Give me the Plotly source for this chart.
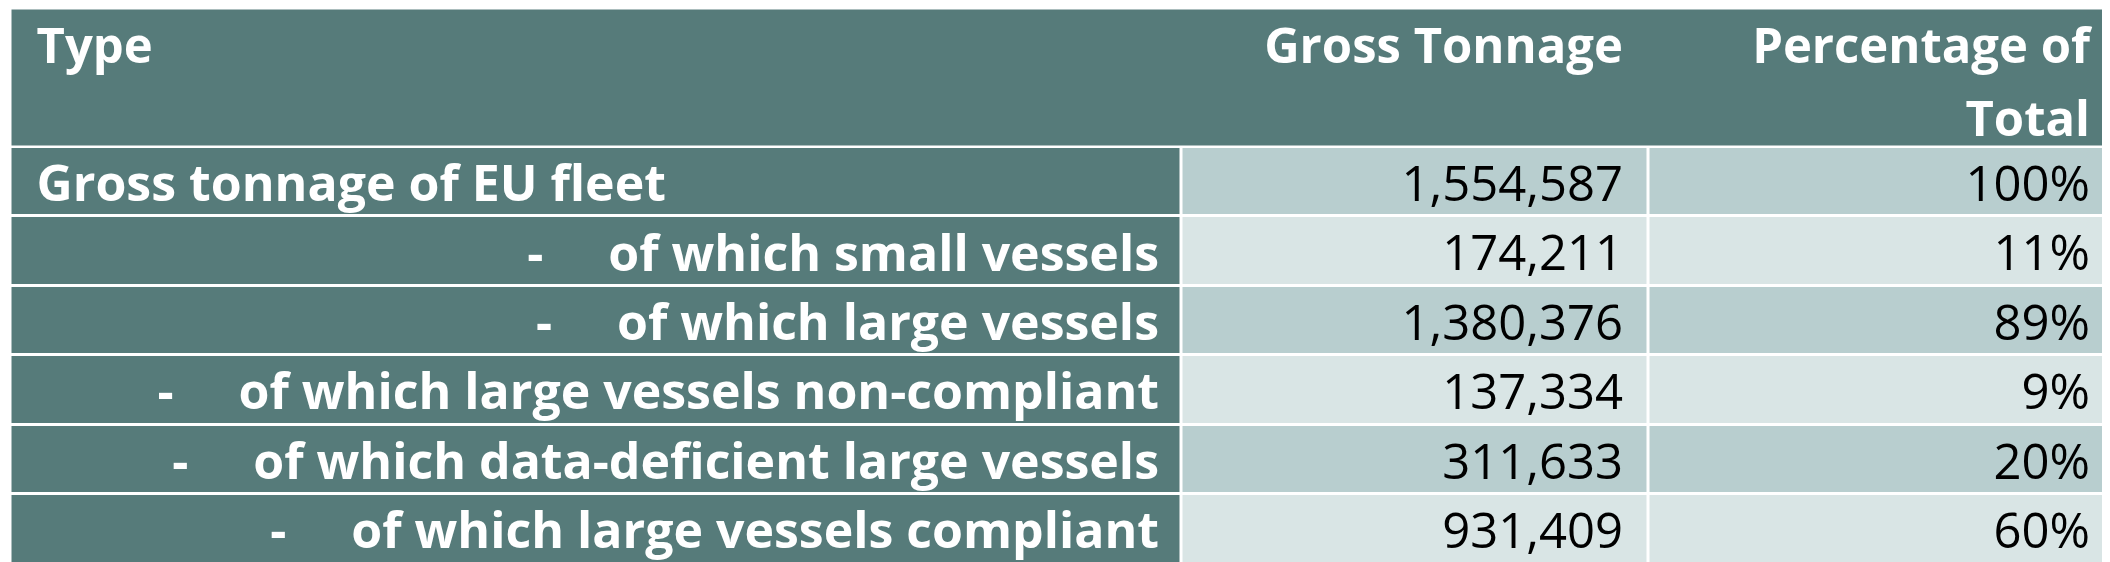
import plotly.graph_objects as go

# ---- data ----
header_line1 = ["Type", "Gross Tonnage", "Percentage of"]
header_line2 = ["", "", "Total"]
types = [
    "Gross tonnage of EU fleet",
    "of which small vessels",
    "of which large vessels",
    "of which large vessels non-compliant",
    "of which data-deficient large vessels",
    "of which large vessels compliant",
]
gross_tonnage = [1554587, 174211, 1380376, 137334, 311633, 931409]
pct_of_total = [100, 11, 89, 9, 20, 60]

# ---- style / layout constants ----
W, H = 2110, 562
TEAL = "#567B7A"
DARK = "#B8CECF"
LIGHT = "#D9E5E5"
FONT = "Open Sans"
FS = 49
FS_LABEL = 50
GAP = "\u00a0" * 5

TABLE_LEFT = 2.5
COL_W = [1170.5, 467, 464]
TABLE_TOP = 0.5
HEADER_H = 138.5
ROW_H = 69.4
PAD_L = 26
PAD_R = [22, 25, 22]
TEXT_DY = 7          # shift from row centre to text anchor
HEAD_Y1, HEAD_Y2 = 42.75, 115.75

n = len(types)
x_edges = [TABLE_LEFT]
for w in COL_W:
    x_edges.append(x_edges[-1] + w)
header_bottom = TABLE_TOP + HEADER_H
row_tops = [header_bottom + i * ROW_H for i in range(n)]
y_edges = row_tops + [max(row_tops[-1] + ROW_H, H + 10)]
row_mid = [t + ROW_H / 2 + TEXT_DY for t in row_tops]

# category codes: 0 = teal label, 1 = dark band, 2 = light band
z_body = [[0, 1 + (i % 2), 1 + (i % 2)] for i in range(n)]
cscale = [[0, TEAL], [0.33, TEAL], [0.34, DARK], [0.66, DARK], [0.67, LIGHT], [1, LIGHT]]

fig = go.Figure()

# header band
fig.add_trace(go.Heatmap(
    x=[x_edges[0], x_edges[-1]], y=[TABLE_TOP, header_bottom], z=[[0]],
    zmin=0, zmax=2, colorscale=cscale, showscale=False,
    xgap=3, ygap=3, hoverinfo="skip",
))
# body cells
fig.add_trace(go.Heatmap(
    x=x_edges, y=y_edges, z=z_body,
    zmin=0, zmax=2, colorscale=cscale, showscale=False,
    xgap=3, ygap=3, hoverinfo="skip",
))

right_x = [e - p for e, p in zip(x_edges[1:], PAD_R)]

# header text
hx, hy, ht, hp = [], [], [], []
for j in range(3):
    for label, yy in ((header_line1[j], HEAD_Y1), (header_line2[j], HEAD_Y2)):
        if not label:
            continue
        hx.append(x_edges[0] + PAD_L if j == 0 else right_x[j])
        hy.append(yy)
        ht.append(f"<b>{label}</b>")
        hp.append("middle right" if j == 0 else "middle left")
fig.add_trace(go.Scatter(
    x=hx, y=hy, text=ht, mode="text", textposition=hp,
    textfont=dict(family=FONT, size=FS, color="white"),
    hoverinfo="skip", showlegend=False,
))

# first column text
tx, tt, tp = [], [], []
for i, t in enumerate(types):
    if i == 0:
        tx.append(x_edges[0] + PAD_L)
        tt.append(f"<b>{t}</b>")
        tp.append("middle right")
    else:
        tx.append(right_x[0])
        tt.append(f"<b>-{GAP}{t}</b>")
        tp.append("middle left")
fig.add_trace(go.Scatter(
    x=tx, y=row_mid, text=tt, mode="text", textposition=tp,
    textfont=dict(family=FONT, size=FS_LABEL, color="white"),
    hoverinfo="skip", showlegend=False,
))

# numeric columns
fig.add_trace(go.Scatter(
    x=[right_x[1]] * n, y=row_mid, text=[f"{v:,}" for v in gross_tonnage],
    mode="text", textposition="middle left",
    textfont=dict(family=FONT, size=FS, color="black"),
    hoverinfo="skip", showlegend=False,
))
fig.add_trace(go.Scatter(
    x=[right_x[2]] * n, y=row_mid, text=[f"{v}%" for v in pct_of_total],
    mode="text", textposition="middle left",
    textfont=dict(family=FONT, size=FS, color="black"),
    hoverinfo="skip", showlegend=False,
))

fig.update_layout(
    width=W, height=H,
    margin=dict(l=0, r=0, t=0, b=0),
    paper_bgcolor="white", plot_bgcolor="white",
    xaxis=dict(range=[0, W], visible=False, fixedrange=True),
    yaxis=dict(range=[H, 0], visible=False, fixedrange=True),
    showlegend=False,
)

fig.write_html("out.html")
